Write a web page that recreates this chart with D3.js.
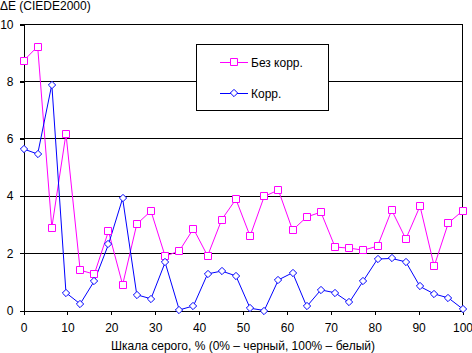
<!DOCTYPE html>
<html>
<head>
<meta charset="utf-8">
<script src="https://cdn.jsdelivr.net/npm/d3@7"></script>
<style>
  body { margin: 0; background: #fff; }
  svg text { font-family: "Liberation Sans", Arial, sans-serif; font-size: 12px; fill: #000; }
</style>
</head>
<body>
<div id="chart"></div>
<script>
    // grey scale steps (% of white), 32 measured points
    var steps = d3.range(32).map(function(i) { return i * 100 / 31; });

    var seriesNames = ["Без корр.", "Корр."];

    var rawValues = [8.73, 9.23, 2.9, 6.18, 1.41, 1.27, 2.77, 0.9, 3.02, 3.48,
                     1.9, 2.08, 2.86, 1.91, 3.18, 3.89, 2.6, 3.99, 4.21, 2.81,
                     3.27, 3.44, 2.22, 2.18, 2.11, 2.25, 3.51, 2.5, 3.65, 1.55,
                     3.06, 3.48];

    var corrValues = [5.65, 5.47, 7.9, 0.62, 0.23, 1.03, 2.31, 3.92, 0.55, 0.41,
                      1.68, 0.02, 0.16, 1.28, 1.38, 1.21, 0.08, 0.0, 1.07, 1.32,
                      0.14, 0.72, 0.62, 0.28, 1.04, 1.8, 1.82, 1.7, 0.84, 0.58,
                      0.44, 0.06];

    var xTicks = [0, 10, 20, 30, 40, 50, 60, 70, 80, 90, 100];
    var yTicks = [0, 2, 4, 6, 8, 10];

    var yTitle = "ΔE (CIEDE2000)";
    var xTitle = "Шкала серого, % (0% – черный, 100% – белый)";

    function init() {
        var w = 472;
        var h = 353;

        var svg = d3.select("#chart")
            .append("svg")
            .attr("width", w)
            .attr("height", h);

        var xScale = d3.scaleLinear().domain([0, 100]).range([23.5, 462.5]);
        var yScale = d3.scaleLinear().domain([0, 10]).range([310.5, 24.5]);

        // horizontal grid lines
        svg.append("g")
            .selectAll("line")
            .data(yTicks.filter(function(d) { return d > 0; }))
            .enter().append("line")
            .attr("x1", xScale(0) - 4)
            .attr("x2", xScale(100))
            .attr("y1", function(d) { return yScale(d); })
            .attr("y2", function(d) { return yScale(d); })
            .attr("stroke", "#000")
            .attr("shape-rendering", "crispEdges");

        // right border
        svg.append("line")
            .attr("x1", xScale(100)).attr("x2", xScale(100))
            .attr("y1", yScale(10)).attr("y2", yScale(0))
            .attr("stroke", "#000")
            .attr("shape-rendering", "crispEdges");

        // x axis
        var xAxis = d3.axisBottom(xScale).tickValues(xTicks).tickSize(4).tickSizeOuter(0).tickPadding(9);
        var gx = svg.append("g")
            .attr("transform", "translate(0," + yScale(0) + ")")
            .call(xAxis);

        // y axis
        var yAxis = d3.axisLeft(yScale).tickValues(yTicks).tickSize(4).tickSizeOuter(0).tickPadding(6);
        var gy = svg.append("g")
            .attr("transform", "translate(" + xScale(0) + ",0)")
            .call(yAxis);

        [gx, gy].forEach(function(g) {
            g.selectAll("path, line").attr("stroke", "#000").attr("shape-rendering", "crispEdges");
            g.selectAll("text")
                .attr("fill", "#000")
                .style("font-family", "'Liberation Sans', Arial, sans-serif")
                .style("font-size", "12px");
        });

        // data lines
        var line = d3.line()
            .x(function(d, i) { return xScale(steps[i]); })
            .y(function(d) { return yScale(d); });

        var series = [
            { name: seriesNames[0], values: rawValues, color: "#ff00ff", shape: d3.symbolSquare },
            { name: seriesNames[1], values: corrValues, color: "#0000ff", shape: d3.symbolDiamond2 }
        ];

        series.forEach(function(s) {
            svg.append("path")
                .datum(s.values)
                .attr("d", line)
                .attr("fill", "none")
                .attr("stroke", s.color)
                .attr("stroke-width", 1);
        });

        series.forEach(function(s) {
            svg.append("g")
                .selectAll("path")
                .data(s.values)
                .enter().append("path")
                .attr("transform", function(d, i) {
                    return "translate(" + Math.round(xScale(steps[i])) + "," + Math.round(yScale(d)) + ")";
                })
                .attr("d", d3.symbol().type(s.shape).size(s.shape === d3.symbolSquare ? 49 : 34))
                .attr("fill", "#fff")
                .attr("stroke", s.color)
                .attr("stroke-width", 1);
        });

        // legend
        var legend = svg.append("g");
        legend.append("rect")
            .attr("x", 196.5).attr("y", 44.5)
            .attr("width", 132).attr("height", 66)
            .attr("fill", "#fff")
            .attr("stroke", "#000")
            .attr("shape-rendering", "crispEdges");

        series.forEach(function(s, i) {
            var ly = 62.5 + i * 31;
            legend.append("line")
                .attr("x1", 220).attr("x2", 248)
                .attr("y1", ly).attr("y2", ly)
                .attr("stroke", s.color)
                .attr("shape-rendering", "crispEdges");
            legend.append("path")
                .attr("transform", "translate(234," + Math.floor(ly) + ")")
                .attr("d", d3.symbol().type(s.shape).size(s.shape === d3.symbolSquare ? 49 : 34))
                .attr("fill", "#fff")
                .attr("stroke", s.color);
            legend.append("text")
                .attr("x", 251)
                .attr("y", ly + 4)
                .text(s.name);
        });

        // titles
        svg.append("text")
            .attr("x", 0)
            .attr("y", 10)
            .text(yTitle);

        svg.append("text")
            .attr("x", (xScale(0) + xScale(100)) / 2)
            .attr("y", 350)
            .attr("text-anchor", "middle")
            .text(xTitle);
    }

    init();
</script>
</body>
</html>
